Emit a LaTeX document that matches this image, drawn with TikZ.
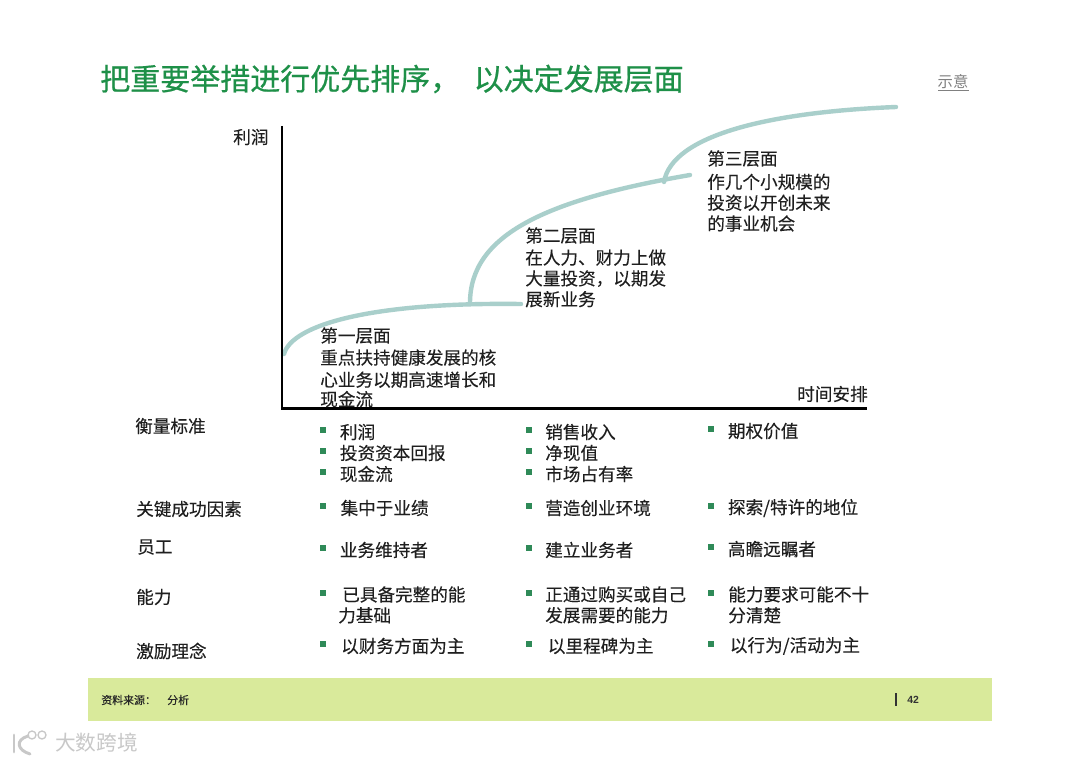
\documentclass[tikz,border=0pt]{standalone}
\usepackage{fontspec}
\setmainfont[FakeBold=0.12]{Noto Sans CJK SC}
\newfontfamily\titlef[FakeBold=0.6]{Noto Sans CJK SC}
\newfontfamily\plainf{Noto Sans CJK SC}
\newfontfamily\latinf{Liberation Sans}
\definecolor{titlegreen}{HTML}{1E9048}
\definecolor{curvec}{HTML}{A9CFCB}
\definecolor{bandc}{HTML}{D9EA9B}
\definecolor{bulletc}{HTML}{2F8A58}
\definecolor{wm}{HTML}{C8C8C8}
\tikzset{
  txt/.style={anchor=west,inner sep=0pt,font=\fontsize{13.2pt}{16pt}\selectfont,text=black!88},
  multi/.style={txt,align=left,font=\fontsize{13.2pt}{15.6pt}\selectfont},
  bul/.style={fill=bulletc,minimum size=4pt,inner sep=0pt},
  curve/.style={draw=curvec,line width=3.3pt,line cap=round},
}
\newcommand{\bulitem}[4]{\node[bul] (b#1) at (#2,#3-2) {};\node[txt] (t#1) at (#2+20,#3) {#4};}
\begin{document}
\begin{tikzpicture}[x=0.75pt,y=-0.75pt]
\useasboundingbox (0,0) rectangle (1080,763);
\fill[white] (0,0) rectangle (1080,763);
\node[anchor=west,inner sep=0pt,font=\titlef\fontsize{22.5pt}{26pt}\selectfont,text=titlegreen] (title) at (100,79) {把重要举措进行优先排序， \ 以决定发展层面};
\node[anchor=center,inner sep=0pt,font=\plainf\fontsize{11.5pt}{14pt}\selectfont,text=black!50] (hint) at (953,82) {示意};
\coordinate (hintl) at (938,90.5); \coordinate (hintr) at (969,90.5);
\draw[black!50,line width=0.6pt] (hintl) -- (hintr);
% curves
\coordinate (c1s) at (284,354); \coordinate (c1e) at (521,304);
\coordinate (j1) at (470,303); \coordinate (c2e) at (690,175);
\coordinate (j2) at (664,182); \coordinate (c3e) at (896,107);
\draw[curve] (c1s) .. controls (292,325) and (370,302) .. (c1e);
\draw[curve] (j1) .. controls (470,235) and (545,200) .. (c2e);
\draw[curve] (j2) .. controls (672,135) and (770,112) .. (c3e);
% axes
\coordinate (o) at (282,408.5); \coordinate (ytop) at (282,126); \coordinate (xend) at (867,408.5);
\draw[black,line width=1.7pt] (ytop) -- (o) -- (xend);
\node[txt] (ylab) at (233,137) {利润};
\node[txt] (xlab) at (797,394) {时间安排};
% level texts
\node[multi,anchor=north west] (l1) at (320,327) {第一层面\\[1pt]重点扶持健康发展的核\\[1pt]心业务以期高速增长和\\[-1pt]现金流};
\node[multi,anchor=north west] (l2) at (525,227) {第二层面\\[1pt]在人力、财力上做\\大量投资，以期发\\展新业务};
\node[multi,anchor=north west] (l3) at (707,150) {第三层面\\[2pt]作几个小规模的\\投资以开创未来\\的事业机会};
% row labels
\node[txt] (r1) at (135,426) {衡量标准};
\node[txt] (r2) at (136,509) {关键成功因素};
\node[txt] (r3) at (137,547) {员工};
\node[txt] (r4) at (136,597) {能力};
\node[txt] (r5) at (136,651) {激励理念};
% column 1
\bulitem{a1}{323}{432}{\hspace{-2.5pt}利润}
\bulitem{a2}{323}{453}{\hspace{-2.5pt}投资资本回报}
\bulitem{a3}{323}{474}{\hspace{-2.5pt}现金流}
\bulitem{a4}{323}{508}{\hspace{-2pt}集中于业绩}
\bulitem{a5}{323}{550}{\hspace{-2.5pt}业务维持者}
\node[bul] (ba6) at (323,593) {};
\node[multi,anchor=north west] (ta6) at (338,586) {\hspace{3pt}已具备完整的能\\力基础};
\bulitem{a7}{323}{646}{\hspace{-1.5pt}以财务方面为主}
% column 2
\bulitem{b1}{529}{432}{\hspace{-3pt}销售收入}
\bulitem{b2}{529}{453}{\hspace{-3pt}净现值}
\bulitem{b3}{529}{474}{\hspace{-3pt}市场占有率}
\bulitem{b4}{529}{508}{\hspace{-3pt}营造创业环境}
\bulitem{b5}{529}{550}{\hspace{-3pt}建立业务者}
\node[bul] (bb6) at (529,593) {};
\node[multi,anchor=north west] (tb6) at (545,586) {正通过购买或自己\\发展需要的能力};
\bulitem{b7}{529}{646}{\hspace{-1pt}以里程碑为主}
% column 3
\bulitem{c1}{711}{431}{\hspace{-2.5pt}期权价值}
\bulitem{c2}{711}{508}{\hspace{-2.5pt}探索/特许的地位}
\bulitem{c3}{711}{549}{\hspace{-2.5pt}高瞻远瞩者}
\node[bul] (bc6) at (711,593) {};
\node[multi,anchor=north west] (tc6) at (728,586) {能力要求可能不十\\分清楚};
\bulitem{c7}{711}{646}{\hspace{-1pt}以行为/活动为主}
% band
\fill[bandc] (88,678) rectangle (992,721);
\node[anchor=west,inner sep=0pt,font=\fontsize{8.2pt}{9pt}\selectfont,text=black!85] (src) at (101,700) {资料来源：};
\node[anchor=west,inner sep=0pt,font=\fontsize{8.2pt}{9pt}\selectfont,text=black!85] (src2) at (167,700) {分析};
\coordinate (s1) at (896,693); \coordinate (s2) at (896,706);
\draw[black!80,line width=0.8pt] (s1) -- (s2);
\node[anchor=west,inner sep=0pt,font=\latinf\bfseries\fontsize{7.8pt}{9pt}\selectfont,text=black!80] (pg) at (907,700) {42};
% watermark
\node[anchor=west,inner sep=0pt,font=\plainf\fontsize{15.5pt}{18pt}\selectfont,text=wm] (wmt) at (55,743) {大数跨境};
\draw[wm,line width=2.2pt,line cap=round] (14,735) -- (14,752);
\draw[wm,line width=2.2pt,line cap=round] (28,736) .. controls (15,740) and (17,750) .. (30,754);
\draw[wm,line width=1pt] (32,735) circle (4);
\draw[wm,line width=1pt] (42,735) circle (4);
\end{tikzpicture}
\end{document}
